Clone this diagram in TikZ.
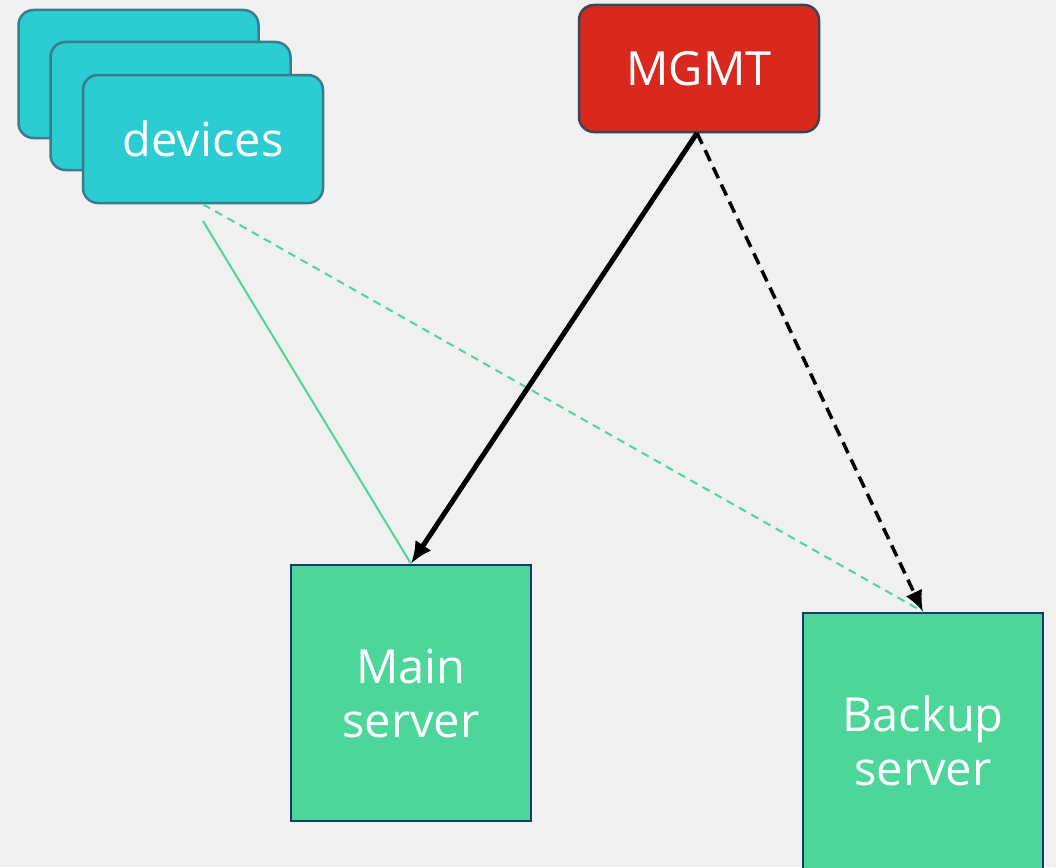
\documentclass[tikz,border=0pt]{standalone}
\usepackage{fontspec}
\setmainfont{Open Sans}
\usetikzlibrary{arrows.meta}
\definecolor{bgc}{HTML}{F0F0F0}
\definecolor{devfill}{HTML}{2BCDD3}
\definecolor{devline}{HTML}{3B7C8C}
\definecolor{mgmtfill}{HTML}{D9291E}
\definecolor{mgmtline}{HTML}{3A4656}
\definecolor{srvfill}{HTML}{4CD699}
\definecolor{srvline}{HTML}{17386B}
\definecolor{linkgreen}{HTML}{4CD699}
\tikzset{
  label text/.style={text=white, font=\fontsize{47}{54}\selectfont, align=center},
  devbox/.style={rectangle, rounded corners=15pt, draw=devline, line width=2.5pt,
    fill=devfill, minimum width=240pt, minimum height=128pt, inner sep=0pt, label text},
  mgmtbox/.style={rectangle, rounded corners=15pt, draw=mgmtline, line width=2.5pt,
    fill=mgmtfill, minimum width=240pt, minimum height=127pt, inner sep=0pt, label text},
  srvbox/.style={rectangle, draw=srvline, line width=2.5pt, fill=srvfill,
    minimum width=240pt, minimum height=256pt, inner sep=0pt, label text},
  mainlink/.style={line width=5pt, black, -{Latex[length=22pt,width=19pt]}},
  backuplink/.style={line width=3.5pt, black, dash pattern=on 12pt off 7pt,
    -{Latex[length=21pt,width=18pt]}},
  devlink/.style={line width=2pt, linkgreen},
  devbackup/.style={line width=2pt, linkgreen, dash pattern=on 8pt off 6pt},
}
\begin{document}
\begin{tikzpicture}[x=1pt,y=-1pt]
\useasboundingbox (0,0) rectangle (1056,867);
\fill[bgc] (0,0) rectangle (1056,867);
\begin{scope}
\clip (0,0) rectangle (1056,867);
% stacked device cards
\node[devbox] (dev3) at (138.5,74) {};
\node[devbox] (dev2) at (170.5,106) {};
\node[devbox] (dev) at (203,139) {devices};
% management node
\node[mgmtbox] (mgmt) at (699,68.5) {MGMT};
% servers
\node[srvbox] (main) at (411,693) {Main\\server};
\node[srvbox] (backup) at (923,741) {Backup\\server};
\coordinate (devtap) at (203,221);
\coordinate (mgmtout) at (697,133);
% device links
\draw[devlink] (devtap) -- (main.north);
\draw[devbackup] (dev.south) -- (backup.north);
% management links
\draw[mainlink] (mgmtout) -- (main.north);
\draw[backuplink] (mgmtout) -- (backup.north);
\end{scope}
\end{tikzpicture}
\end{document}
